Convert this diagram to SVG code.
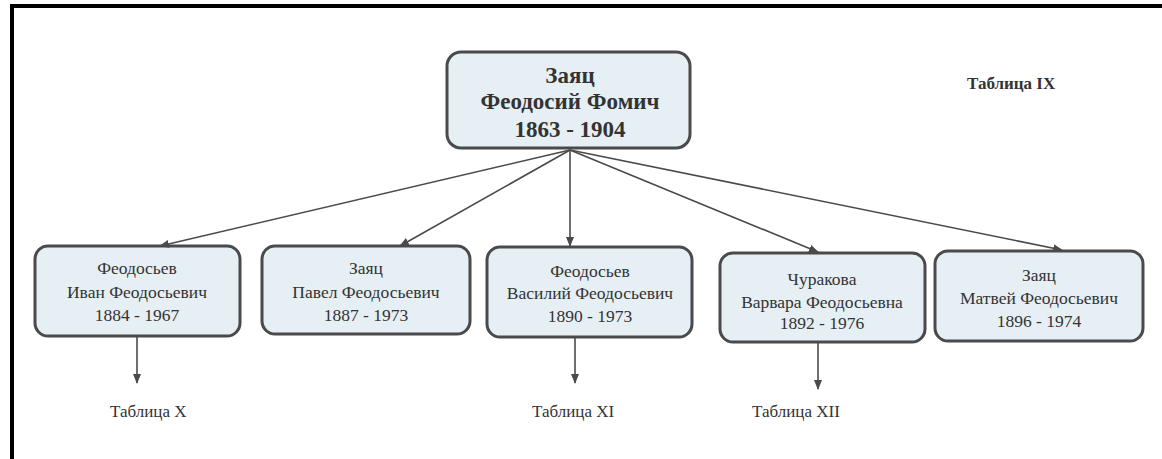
<svg xmlns="http://www.w3.org/2000/svg" width="1162" height="459" viewBox="0 0 1162 459">
<defs>
<marker id="ah" markerWidth="10" markerHeight="8" refX="9" refY="4" orient="auto" markerUnits="userSpaceOnUse">
<path d="M0,0 L10,4 L0,8 Z" fill="#4a4a4a"/>
</marker>
<style>
.box{fill:#e6eff4;stroke:#4a4a4a;stroke-width:3}
.t{font-family:"Liberation Serif","Times New Roman",serif;fill:#333;text-anchor:middle}
.tb{font-weight:bold;font-size:23px}
.tn{font-size:17.5px}
.lbl{font-family:"Liberation Serif","Times New Roman",serif;fill:#333;font-size:17px}
.c{stroke:#4a4a4a;stroke-width:1.6;fill:none;marker-end:url(#ah)}
</style>
</defs>
<rect width="1162" height="459" fill="#fff"/>
<path d="M12,459 V6 H1162" fill="none" stroke="#000" stroke-width="4"/>
<g id="root">
<rect class="box" x="447" y="52" width="243" height="96" rx="14"/>
<text class="t tb" x="570" y="83">Заяц</text>
<text class="t tb" x="570" y="109">Феодосий Фомич</text>
<text class="t tb" x="570" y="137">1863 - 1904</text>
</g>
<g id="ivan">
<rect class="box" x="35" y="246" width="205" height="90" rx="13"/>
<text class="t tn" x="137" y="274">Феодосьев</text>
<text class="t tn" x="137" y="298">Иван Феодосьевич</text>
<text class="t tn" x="137" y="321">1884 - 1967</text>
</g>
<g id="pavel">
<rect class="box" x="262" y="246" width="208" height="88" rx="13"/>
<text class="t tn" x="366" y="274">Заяц</text>
<text class="t tn" x="366" y="298">Павел Феодосьевич</text>
<text class="t tn" x="366" y="321">1887 - 1973</text>
</g>
<g id="vasily">
<rect class="box" x="487" y="247" width="205" height="90" rx="13"/>
<text class="t tn" x="590" y="277">Феодосьев</text>
<text class="t tn" x="590" y="299">Василий Феодосьевич</text>
<text class="t tn" x="590" y="322">1890 - 1973</text>
</g>
<g id="varvara">
<rect class="box" x="720" y="253" width="205" height="89" rx="13"/>
<text class="t tn" x="822" y="285">Чуракова</text>
<text class="t tn" x="822" y="308">Варвара Феодосьевна</text>
<text class="t tn" x="822" y="329">1892 - 1976</text>
</g>
<g id="matvei">
<rect class="box" x="935" y="251" width="208" height="90" rx="13"/>
<text class="t tn" x="1039" y="281">Заяц</text>
<text class="t tn" x="1039" y="304">Матвей Феодосьевич</text>
<text class="t tn" x="1039" y="327">1896 - 1974</text>
</g>
<g id="labels">
<text class="lbl" x="967" y="89" font-weight="bold">Таблица IX</text>
<text class="lbl" x="110" y="417">Таблица X</text>
<text class="lbl" x="532" y="417">Таблица XI</text>
<text class="lbl" x="752" y="417">Таблица XII</text>
</g>
<g id="connectors">
<line class="c" x1="570" y1="150" x2="160" y2="246"/>
<line class="c" x1="570" y1="150" x2="400" y2="246"/>
<line class="c" x1="570" y1="150" x2="570" y2="246"/>
<line class="c" x1="570" y1="150" x2="818" y2="252"/>
<line class="c" x1="570" y1="150" x2="1062" y2="250"/>
<line class="c" x1="137" y1="337" x2="137" y2="383"/>
<line class="c" x1="575" y1="338" x2="575" y2="383"/>
<line class="c" x1="818" y1="343" x2="818" y2="389"/>
</g>
</svg>
